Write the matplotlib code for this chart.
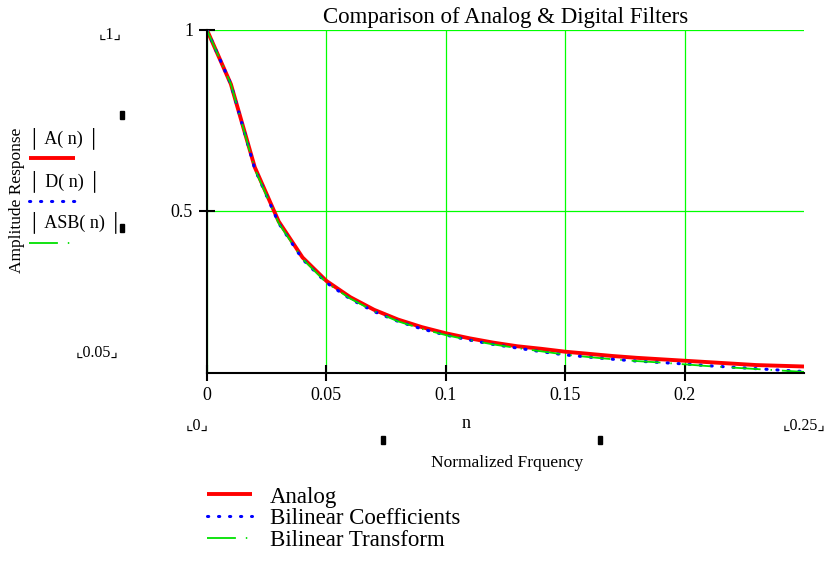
import matplotlib
matplotlib.use("Agg")
import matplotlib.pyplot as plt
from matplotlib.patches import Rectangle
from matplotlib.lines import Line2D

# Normalized frequency samples and responses
n = [0.00, 0.01, 0.02, 0.03, 0.04, 0.05, 0.06, 0.07, 0.08, 0.09, 0.10, 0.11, 0.12,
     0.13, 0.14, 0.15, 0.16, 0.17, 0.18, 0.19, 0.20, 0.21, 0.22, 0.23, 0.24, 0.25]
analog = [1.0, 0.85, 0.62, 0.47, 0.37, 0.305, 0.26, 0.225, 0.198, 0.177, 0.16, 0.146, 0.134,
          0.124, 0.117, 0.109, 0.103, 0.097, 0.092, 0.088, 0.084, 0.080, 0.076, 0.072, 0.070, 0.068]
bilin_coef = [1.0, 0.85, 0.615, 0.465, 0.365, 0.30, 0.255, 0.22, 0.193, 0.172, 0.155, 0.141, 0.129,
              0.119, 0.109, 0.100, 0.094, 0.088, 0.083, 0.079, 0.075, 0.070, 0.066, 0.062, 0.058, 0.054]
bilin_tf = [1.0, 0.85, 0.615, 0.465, 0.366, 0.30, 0.256, 0.221, 0.193, 0.172, 0.155, 0.141, 0.129,
            0.119, 0.110, 0.101, 0.094, 0.088, 0.083, 0.079, 0.074, 0.069, 0.065, 0.061, 0.057, 0.053]

xticks = [0, 0.05, 0.1, 0.15, 0.2]
xtick_labels = ["0", "0.05", "0.1", "0.15", "0.2"]
yticks = [0.5, 1.0]
ytick_labels = ["0.5", "1"]

serif = ["Liberation Serif", "DejaVu Serif"]
brk = ["Liberation Serif", "DejaVu Sans"]
W, H = 825, 561

red_style = dict(color="#ff0000", lw=2.8, linestyle="-", solid_capstyle="butt")
blue_style = dict(color="#0000ff", lw=2.2, linestyle=(0, (0.4, 3.2)), dash_capstyle="round")
green_style = dict(color="#00e000", lw=1.3, linestyle=(0, (16, 5.5, 0.8, 5.5)))

fig = plt.figure(figsize=(8.25, 5.61), dpi=100)
ax = fig.add_axes([207 / W, 1 - 373 / H, 597 / W, 343 / H])

ax.plot(n, analog, **red_style)
ax.plot(n, bilin_coef, **blue_style)
ax.plot(n, bilin_tf, **green_style)

ax.set_xlim(0, 0.25)
ax.set_ylim(0.05, 1.0)
ax.set_xticks(xticks)
ax.set_xticklabels(xtick_labels, family=serif, fontsize=13)
ax.set_yticks(yticks)
ax.set_yticklabels(ytick_labels, family=serif, fontsize=13)
ax.tick_params(direction="inout", length=12, width=1.5, color="black", pad=4)
ax.grid(True, color="#00ff00", lw=0.9)
ax.set_axisbelow(True)
for s in ["top", "right"]:
    ax.spines[s].set_visible(False)
for s in ["left", "bottom"]:
    ax.spines[s].set_linewidth(1.5)

fig.text(506 / W, 1 - 18 / H, "Comparison of Analog & Digital Filters",
         family=serif, fontsize=16.5, ha="center", va="center")

# Mathcad-style axis range markers and labels
fig.text(110 / W, 1 - 35 / H, "\u231e1\u231f", family=brk, fontsize=11.5, ha="center", va="center")
fig.text(97 / W, 1 - 353 / H, "\u231e0.05\u231f", family=brk, fontsize=11.5, ha="center", va="center")
fig.text(197 / W, 1 - 426 / H, "\u231e0\u231f", family=brk, fontsize=11.5, ha="center", va="center")
fig.text(804 / W, 1 - 426 / H, "\u231e0.25\u231f", family=brk, fontsize=11.5, ha="center", va="center")
fig.text(466 / W, 1 - 423 / H, "n", family=serif, fontsize=13, ha="center", va="center")
fig.text(507 / W, 1 - 463 / H, "Normalized Frquency", family=serif, fontsize=12.5, ha="center", va="center")
fig.text(17 / W, 1 - 200 / H, "Amplitude Response", family=serif, fontsize=12.5,
         rotation=90, ha="center", va="center")

for (x, y) in [(122, 115), (122, 228), (383, 440), (600, 440)]:
    fig.patches.append(Rectangle(((x - 2) / W, 1 - (y + 4) / H), 4 / W, 8 / H,
                                 transform=fig.transFigure, color="black"))

# Trace names on the left
names = ["\u2502 A( n) \u2502", "\u2502 D( n) \u2502", "\u2502 ASB( n) \u2502"]
name_y = [138, 181, 222]
line_y = [158, 201, 243]
styles = [red_style, blue_style, green_style]
for name, y, ly, st in zip(names, name_y, line_y, styles):
    fig.text(28 / W, 1 - y / H, name, family=brk, fontsize=13, ha="left", va="center")
    fig.lines.append(Line2D([29 / W, 75 / W], [1 - ly / H] * 2,
                            transform=fig.transFigure, **st))

# Legend at the bottom
labels = ["Analog", "Bilinear Coefficients", "Bilinear Transform"]
leg_y = [497, 519, 541]
for lab, y, st in zip(labels, leg_y, styles):
    fig.lines.append(Line2D([207 / W, 252 / W], [1 - (y - 3) / H] * 2,
                            transform=fig.transFigure, **st))
    fig.text(270 / W, 1 - y / H, lab, family=serif, fontsize=16.5, ha="left", va="center")

fig.savefig("out.png", dpi=100)
